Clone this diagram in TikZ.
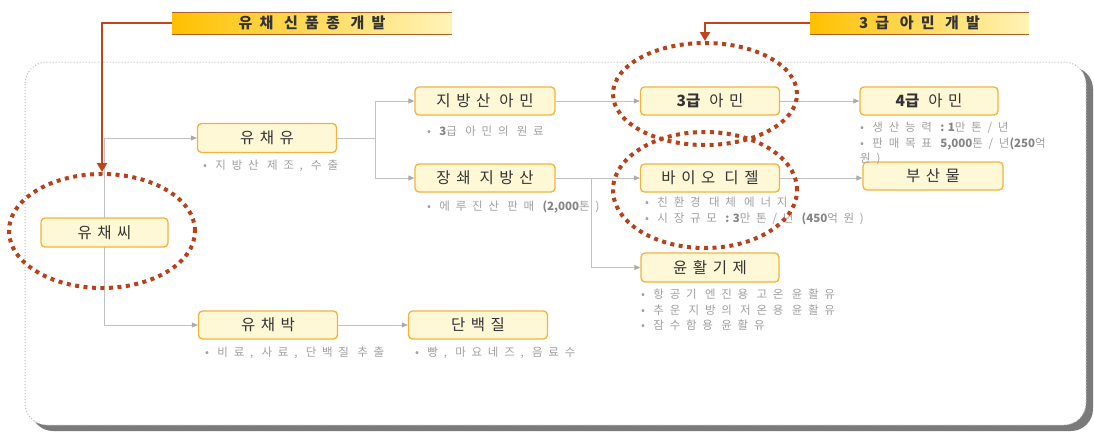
\documentclass[tikz,border=0pt]{standalone}
\usepackage{fontspec}
\setmainfont{Noto Sans CJK KR}
\newfontfamily\krplain{Noto Sans CJK KR}
\newfontfamily\krbox[LetterSpace=36]{Noto Sans CJK KR}
\newfontfamily\krnote[LetterSpace=50]{Noto Sans CJK KR}
\newfontfamily\krban[LetterSpace=48]{Noto Sans CJK KR}
\usetikzlibrary{arrows.meta,shapes.geometric}
\definecolor{redline}{HTML}{C1441C}
\definecolor{dotred}{HTML}{B8401A}
\definecolor{nodeor}{HTML}{F2B33D}
\definecolor{nodefill}{HTML}{FFF8D6}
\definecolor{linegray}{HTML}{C2C2C2}
\definecolor{arrgray}{HTML}{ABABAB}
\definecolor{notegray}{HTML}{A0A0A0}
\definecolor{numgray}{HTML}{858585}
\definecolor{darktext}{HTML}{333333}
\definecolor{banL}{HTML}{FFC000}
\definecolor{banR}{HTML}{FFF4B8}
\definecolor{banedge}{HTML}{B0602A}
\definecolor{shadowgray}{HTML}{7A7A7A}
\newcommand{\dg}[1]{{\krplain\bfseries\color{numgray}#1}}
\newcommand{\bx}[1]{{\krplain\bfseries #1}}
\begin{document}
\begin{tikzpicture}[x=1pt,y=-1pt,
  box/.style={draw=nodeor, line width=1.3pt, rounded corners=4pt, fill=nodefill,
    minimum width=139pt, minimum height=28pt, inner sep=0pt,
    font=\krbox\fontsize{15.5}{17}\selectfont, text=darktext},
  note/.style={anchor=west, inner sep=0pt, align=left, text=notegray,
    font=\krnote\fontsize{11.5}{15.5}\selectfont},
  conn/.style={draw=linegray, line width=0.9pt, -{Triangle[length=6pt,width=5pt,color=arrgray,fill=arrgray]}},
  plainline/.style={draw=linegray, line width=0.9pt},
  banner/.style={draw=none, left color=banL, right color=banR, minimum height=22pt,
    inner sep=0pt, font=\krban\bfseries\fontsize{15}{16}\selectfont, text=darktext},
  redarrow/.style={draw=redline, line width=2.6pt, -{Triangle[length=9pt,width=10pt]}},
  reddots/.style={draw=dotred, line width=4pt, dash pattern=on 4pt off 4.5pt, ellipse, inner sep=0pt}
]
\useasboundingbox (0,0) rectangle (1094,432);

% container
\fill[shadowgray, rounded corners=22pt] (31,67) rectangle (1093,431);
\draw[fill=white, draw=gray!55, line width=1pt, dotted, rounded corners=22pt] (25,62) rectangle (1086,425);

% banners
\node[banner, minimum width=280pt] (ban1) at (312,23) {유채 신품종 개발};
\draw[banedge, line width=0.6pt] (ban1.north west) -- (ban1.north east);
\draw[banedge, line width=1.4pt] (ban1.south west) -- (ban1.south east);
\node[banner, minimum width=219pt] (ban2) at (919.5,23) {3급 아민 개발};
\draw[banedge, line width=0.6pt] (ban2.north west) -- (ban2.north east);
\draw[banedge, line width=1.4pt] (ban2.south west) -- (ban2.south east);

% coordinates for trunks
\coordinate (t1) at (104,138);
\coordinate (t2) at (104,325);

% gray trunk lines
\draw[plainline] (t1) -- (t2);

% nodes
\node[box, minimum width=127pt, minimum height=29pt] (seed) at (104.5,232.5) {유채씨};
\node[box, minimum height=29pt] (oil) at (267,138) {유채유};
\node[box] (meal) at (268,325) {유채박};
\node[box] (protein) at (478,325) {단백질};
\node[box, minimum width=140pt] (fatamine) at (485,101) {지방산 아민};
\node[box, minimum width=140pt] (lcfa) at (485,178) {장쇄 지방산};
\node[box] (amine3) at (710,101) {\bx{3급} 아민};
\node[box] (biodiesel) at (710,178) {바이오 디젤};
\node[box, minimum width=138pt, minimum height=29pt] (lube) at (710,267.5) {윤활기제};
\node[box, minimum width=138pt] (amine4) at (929,101) {\bx{4급} 아민};
\node[box, minimum width=140pt] (byprod) at (933,176) {부산물};

% connectors
\draw[conn] (t1) -- (oil.west);
\draw[conn] (t2) -- (meal.west);
\draw[conn] (oil.east) -- ++(38,0) |- (fatamine.west);
\draw[conn] (oil.east) -- ++(38,0) |- (lcfa.west);
\draw[conn] (fatamine.east) -- (amine3.west);
\draw[conn] (amine3.east) -- (amine4.west);
\draw[conn] (lcfa.east) -- (biodiesel.west);
\draw[conn] (lcfa.east) -- ++(36,0) |- (lube.west);
\draw[conn] (biodiesel.east) -- (byprod.west |- biodiesel.east);
\draw[conn] (meal.east) -- (protein.west);

% notes
\node[note] (n1) at (203,166) {• 지방산 제조, 수출};
\node[note] (n2) at (427,131) {• \dg{3}급 아민의 원료};
\node[note] (n3) at (427,207) {• 에루진산 판매 \dg{(2,000}톤)};
\node[note, anchor=north west] (n4) at (645,197) {• 친환경 대체 에너지\\• 시장규모 \dg{: 3}만톤/년 \dg{(450}억원)};
\node[note, anchor=north west] (n5) at (860,122) {• 생산능력 \dg{: 1}만톤/년\\• 판매목표 \dg{5,000}톤/년\dg{(250}억\\원)};
\node[note, anchor=north west] (n6) at (641,289) {• 항공기 엔진용 고온 윤활유\\• 추운 지방의 저온용 윤활유\\• 잠수함용 윤활유};
\node[note] (n7) at (205,353) {• 비료, 사료, 단백질 추출};
\node[note] (n8) at (415,353) {• 빵, 마요네즈, 음료수};

% dotted red ellipses
\node[reddots, minimum width=186pt, minimum height=114pt] (c1) at (102,231) {};
\node[reddots, minimum width=184pt, minimum height=102pt] (c2) at (705,94) {};
\node[reddots, minimum width=184pt, minimum height=116pt] (c3) at (705,190) {};

% red arrows
\draw[redarrow] (ban1.west) -| (c1.north);
\draw[redarrow] (ban2.west) -| (c2.north);
\end{tikzpicture}
\end{document}
